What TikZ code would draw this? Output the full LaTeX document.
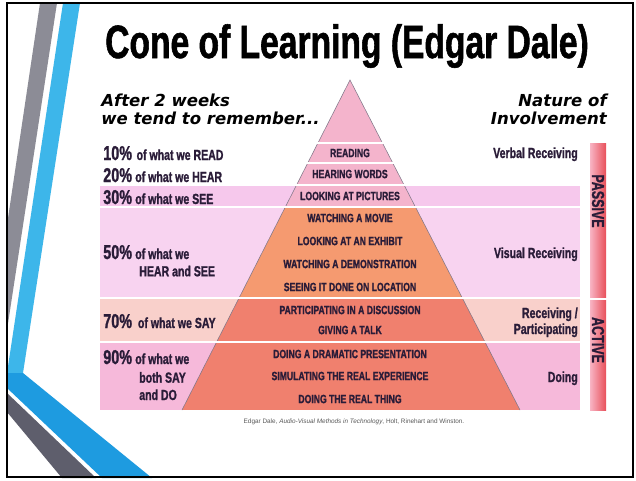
\documentclass[tikz,border=0pt]{standalone}
\usepackage{fontspec}
\usepackage{xcolor}
\usepackage{tikz}
\setmainfont{Liberation Sans}
\newfontfamily\condfont[FakeStretch=0.72,FakeBold=1.2]{Liberation Sans}
\newfontfamily\wideital{DejaVu Sans}

\definecolor{inkdark}{HTML}{2A1C38}
\definecolor{stripegray}{HTML}{8C8C96}
\definecolor{stripedark}{HTML}{5E5E6C}
\definecolor{stripeblue}{HTML}{3DB6EA}
\definecolor{stripedeep}{HTML}{1E9BE0}
\definecolor{bandsee}{HTML}{F6C8EC}
\definecolor{bandhear}{HTML}{F8D3F0}
\definecolor{bandsay}{HTML}{F9D0CB}
\definecolor{banddo}{HTML}{F6B9DA}
\definecolor{conetop}{HTML}{F4B4CC}
\definecolor{conemid}{HTML}{F59A70}
\definecolor{conelow}{HTML}{F0806E}
\definecolor{barpink}{HTML}{F8B4C4}
\definecolor{barred}{HTML}{E8505A}

\tikzset{
  heading/.style={font=\wideital\bfseries\itshape\fontsize{12.4}{14}\selectfont, text=black, inner sep=0pt},
  conelabel/.style={font=\condfont\bfseries\fontsize{9}{10}\selectfont, text=inkdark, inner sep=0pt},
  percent/.style={font=\condfont\bfseries\fontsize{15}{16}\selectfont, text=inkdark, inner sep=0pt, anchor=base west},
  recall/.style={font=\condfont\bfseries\fontsize{11}{12}\selectfont, text=inkdark, inner sep=0pt, anchor=base west},
  involve/.style={font=\condfont\bfseries\fontsize{11}{12}\selectfont, text=inkdark, inner sep=0pt, anchor=base east},
  barlabel/.style={font=\condfont\bfseries\fontsize{13}{14}\selectfont, text=inkdark, inner sep=0pt, rotate=-90},
  rowline/.style={white, line width=0.9pt},
}

\begin{document}
\begin{tikzpicture}[x=0.75pt, y=-0.75pt]
\useasboundingbox (0,0) rectangle (636,480);
\fill[white] (0,0) rectangle (636,480);

% slide stripes on the left
\begin{scope}
\clip (7,3) rectangle (633,478);
\fill[stripegray] (40,3)--(57,3)--(7,330)--(7,225)--cycle;
\fill[stripeblue] (63,3)--(80,3)--(23,373)--(7,373)--cycle;
\fill[stripedeep] (7,373)--(23,373)--(152,478)--(102,478)--(7,388)--cycle;
\fill[stripedark] (7,393)--(96,478)--(62,478)--(7,412)--cycle;
\end{scope}
\draw[line width=1.2pt] (7,3) rectangle (633,477);

% title and column headings
\node[font=\condfont\bfseries\fontsize{35}{38}\selectfont, inner sep=0pt, anchor=base] (title) at (347,58) {Cone of Learning (Edgar Dale)};
\node[heading, anchor=base west] (after) at (101,106) {After 2 weeks};
\node[heading, anchor=base west] (tend) at (101,124) {we tend to remember...};
\node[heading, anchor=base east] (nature) at (607,106) {Nature of};
\node[heading, anchor=base east] (involvement) at (607,124) {Involvement};

% coloured bands behind the rows
\fill[bandsee] (100,185) rectangle (580,207);
\fill[bandhear] (100,207) rectangle (580,298);
\fill[bandsay] (100,298) rectangle (580,342);
\fill[banddo] (100,342) rectangle (580,410);

% the cone
\coordinate (apex) at (350,80);
\coordinate (baseL) at (182,410);
\coordinate (baseR) at (520,410);
\begin{scope}
\clip (apex)--(baseR)--(baseL)--cycle;
\fill[conetop] (100,70) rectangle (580,207);
\fill[conemid] (100,207) rectangle (580,298);
\fill[conelow] (100,298) rectangle (580,410);
\end{scope}
\draw[inkdark!60, line width=0.4pt] (baseL)--(apex)--(baseR);

\draw[rowline] (180,143)--(520,143);
\draw[rowline] (180,163)--(520,163);
\draw[rowline] (100,185)--(580,185);
\draw[rowline] (100,207)--(580,207);
\draw[rowline] (100,298)--(580,298);
\draw[rowline] (100,342)--(580,342);

\node[conelabel] (reading) at (350,153) {READING};
\node[conelabel] (hearing) at (350,174) {HEARING WORDS};
\node[conelabel] (pictures) at (350,196) {LOOKING AT PICTURES};
\node[conelabel] (movie) at (350,218) {WATCHING A MOVIE};
\node[conelabel] (exhibit) at (350,241) {LOOKING AT AN EXHIBIT};
\node[conelabel] (demo) at (350,264) {WATCHING A DEMONSTRATION};
\node[conelabel] (location) at (350,287) {SEEING IT DONE ON LOCATION};
\node[conelabel] (discussion) at (350,310) {PARTICIPATING IN A DISCUSSION};
\node[conelabel] (talk) at (350,330) {GIVING A TALK};
\node[conelabel] (drama) at (350,354) {DOING A DRAMATIC PRESENTATION};
\node[conelabel] (simulate) at (350,376) {SIMULATING THE REAL EXPERIENCE};
\node[conelabel] (realthing) at (350,399) {DOING THE REAL THING};

% what we remember
\node[percent] (p10) at (103,160) {10\%};
\node[recall] (r10) at ([xshift=3pt]p10.base east) {of what we READ};
\node[percent] (p20) at (103,182) {20\%};
\node[recall] (r20) at ([xshift=2pt]p20.base east) {of what we HEAR};
\node[percent] (p30) at (103,204) {30\%};
\node[recall] (r30) at ([xshift=2pt]p30.base east) {of what we SEE};
\node[percent] (p50) at (103,259) {50\%};
\node[recall] (r50) at ([xshift=2pt]p50.base east) {of what we};
\node[recall] (r50b) at ([xshift=3pt, yshift=-13pt]r50.base west) {HEAR and SEE};
\node[percent] (p70) at (103,328) {70\%};
\node[recall] (r70) at ([xshift=4pt]p70.base east) {of what we SAY};
\node[percent] (p90) at (103,364) {90\%};
\node[recall] (r90) at ([xshift=2pt]p90.base east) {of what we};
\node[recall] (r90b) at ([xshift=3pt, yshift=-14pt]r90.base west) {both SAY};
\node[recall] (r90c) at ([yshift=-13pt]r90b.base west) {and DO};

% nature of involvement
\node[involve] (verbal) at (578,158) {Verbal Receiving};
\node[involve] (visual) at (578,258) {Visual Receiving};
\node[involve] (receiving) at (578,318) {Receiving /};
\node[involve] (participating) at (578,334) {Participating};
\node[involve] (doing) at (578,382) {Doing};

\shade[left color=barpink, right color=barred] (590,143) rectangle (606,297);
\shade[left color=barpink, right color=barred] (590,300) rectangle (606,410);
\node[barlabel] (passive) at (598,201) {PASSIVE};
\node[barlabel] (active) at (598,340) {ACTIVE};

% source line
\node[font=\fontsize{4.8}{6}\selectfont, text=black!65, inner sep=0pt] (source) at (354,422)
  {Edgar Dale, \textit{Audio-Visual Methods in Technology}, Holt, Rinehart and Winston.};
\end{tikzpicture}
\end{document}
